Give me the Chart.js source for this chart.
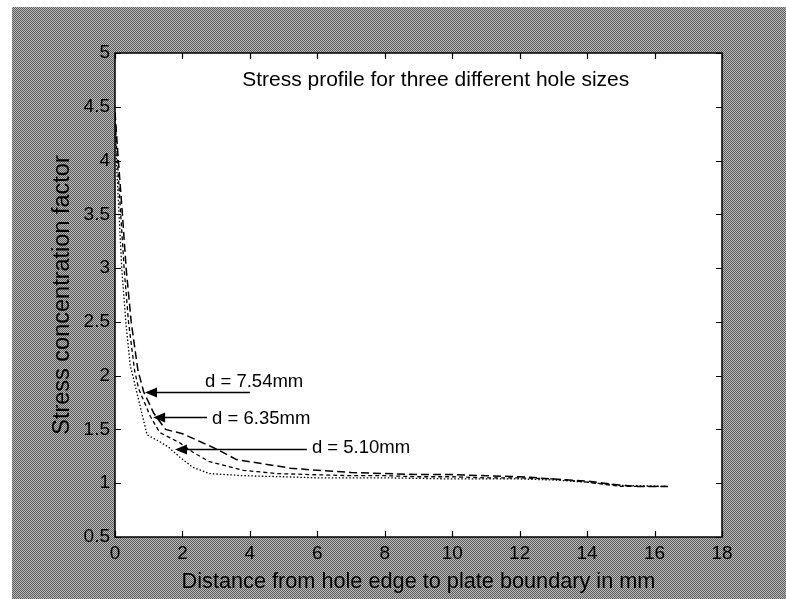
<!DOCTYPE html>
<html>
<head>
<meta charset="utf-8">
<script src="https://cdn.jsdelivr.net/npm/chart.js@4.4.1/dist/chart.umd.min.js"></script>
<style>
  html, body { margin: 0; padding: 0; background: #fff; }
  canvas { display: block; }
</style>
</head>
<body>
<canvas id="c" width="786" height="599"></canvas>
<script>
// Stress concentration factor vs. distance from hole edge, three hole diameters
const dist754 = [0, 0.1, 0.22, 0.33, 0.48, 0.68, 0.85, 1.15, 1.5, 2.0, 2.5, 3.0, 3.6, 4.2, 5.2, 6.0, 7.0, 8.0, 9.0, 10.0, 11.0, 12.0, 13.0, 14.0, 14.5, 15.0, 15.5, 16.4];
const scf754  = [4.45, 4.0, 3.5, 3.0, 2.5, 2.05, 1.85, 1.65, 1.5, 1.46, 1.39, 1.32, 1.22, 1.19, 1.14, 1.12, 1.10, 1.09, 1.08, 1.08, 1.07, 1.06, 1.04, 1.02, 1.0, 0.98, 0.97, 0.97];

const dist635 = [0, 0.07, 0.17, 0.27, 0.4, 0.58, 0.7, 1.05, 1.33, 1.65, 1.95, 2.3, 2.8, 3.8, 4.8, 5.8, 7.0, 8.0, 9.0, 10.0, 11.0, 12.0, 13.0, 14.0, 14.5, 15.0, 16.0, 16.4];
const scf635  = [4.4, 4.0, 3.5, 3.0, 2.5, 2.05, 1.88, 1.62, 1.47, 1.42, 1.37, 1.29, 1.2, 1.12, 1.09, 1.08, 1.07, 1.07, 1.06, 1.06, 1.05, 1.05, 1.04, 1.01, 0.99, 0.97, 0.97, 0.97];

const dist510 = [0, 0.04, 0.12, 0.2, 0.32, 0.45, 0.65, 0.95, 1.25, 1.57, 1.93, 2.3, 2.8, 3.8, 5.0, 6.0, 8.0, 10.0, 12.0, 13.0, 14.0, 15.0, 16.4];
const scf510  = [4.35, 4.0, 3.5, 3.0, 2.5, 2.1, 1.84, 1.45, 1.4, 1.34, 1.24, 1.15, 1.09, 1.07, 1.06, 1.05, 1.05, 1.04, 1.04, 1.03, 1.01, 0.98, 0.97];

const xTicks = [0, 2, 4, 6, 8, 10, 12, 14, 16, 18];
const yTicks = [0.5, 1, 1.5, 2, 2.5, 3, 3.5, 4, 4.5, 5];

const holeLabels = ['d = 7.54mm', 'd = 6.35mm', 'd = 5.10mm'];

// Arrow callouts, in data units: arrow tip, tail x, and text anchor (left, middle)
const callouts = [
  { text: holeLabels[0], tip: [0.89, 1.85], tailX: 4.0,  at: [2.67, 1.94] },
  { text: holeLabels[1], tip: [1.13, 1.615], tailX: 2.73, at: [2.88, 1.60] },
  { text: holeLabels[2], tip: [1.78, 1.318], tailX: 5.69, at: [5.84, 1.327] }
];
const plotTitle = { text: 'Stress profile for three different hole sizes', at: [3.77, 4.75] };

const FONT = '"Liberation Sans", Arial, Helvetica, sans-serif';

function pts(xs, ys) { return xs.map((x, i) => ({ x: x, y: ys[i] })); }

// Halftone-like grey backdrop around the axes box
function makeScreen(ctx) {
  const off = document.createElement('canvas');
  off.width = 2; off.height = 2;
  const o = off.getContext('2d');
  o.fillStyle = '#bcbcbc'; o.fillRect(0, 0, 2, 2);
  o.fillStyle = '#5a5a5a'; o.fillRect(0, 0, 1, 1); o.fillRect(1, 1, 1, 1);
  return ctx.createPattern(off, 'repeat');
}

const framePlugin = {
  id: 'frame',
  beforeDraw(chart) {
    const { ctx, chartArea: a } = chart;
    ctx.save();
    ctx.fillStyle = '#fff';
    ctx.fillRect(0, 0, chart.width, chart.height);
    ctx.fillStyle = makeScreen(ctx);
    ctx.fillRect(12, 7, chart.width - 12, chart.height - 7);
    ctx.fillStyle = '#fff';
    ctx.fillRect(a.left, a.top, a.right - a.left, a.bottom - a.top);
    ctx.restore();
  },
  afterDraw(chart) {
    const { ctx, chartArea: a, scales } = chart;
    const sx = scales.x, sy = scales.y;
    ctx.save();
    // box
    ctx.strokeStyle = '#000';
    ctx.lineWidth = 1.5;
    ctx.strokeRect(a.left, a.top, a.right - a.left, a.bottom - a.top);
    // inward ticks on all four sides
    ctx.lineWidth = 1.2;
    const tl = 6;
    ctx.beginPath();
    sx.ticks.forEach(t => {
      const px = Math.round(sx.getPixelForValue(t.value)) + 0.5;
      ctx.moveTo(px, a.bottom); ctx.lineTo(px, a.bottom - tl);
      ctx.moveTo(px, a.top); ctx.lineTo(px, a.top + tl);
    });
    sy.ticks.forEach(t => {
      const py = Math.round(sy.getPixelForValue(t.value)) + 0.5;
      ctx.moveTo(a.left, py); ctx.lineTo(a.left + tl, py);
      ctx.moveTo(a.right, py); ctx.lineTo(a.right - tl, py);
    });
    ctx.stroke();

    // title inside the axes
    ctx.fillStyle = '#000';
    ctx.font = '21px ' + FONT;
    ctx.textBaseline = 'middle';
    ctx.textAlign = 'left';
    ctx.fillText(plotTitle.text, sx.getPixelForValue(plotTitle.at[0]), sy.getPixelForValue(plotTitle.at[1]));

    // callouts with filled arrowheads
    ctx.font = '18.5px ' + FONT;
    callouts.forEach(c => {
      const tx = sx.getPixelForValue(c.tip[0]);
      const ty = Math.round(sy.getPixelForValue(c.tip[1])) + 0.5;
      const ex = sx.getPixelForValue(c.tailX);
      ctx.lineWidth = 1.6;
      ctx.beginPath();
      ctx.moveTo(tx + 8, ty); ctx.lineTo(ex, ty);
      ctx.stroke();
      ctx.beginPath();
      ctx.moveTo(tx, ty);
      ctx.lineTo(tx + 12, ty - 5);
      ctx.lineTo(tx + 12, ty + 5);
      ctx.closePath();
      ctx.fill();
      ctx.fillText(c.text, sx.getPixelForValue(c.at[0]), sy.getPixelForValue(c.at[1]));
    });
    ctx.restore();
  }
};

new Chart(document.getElementById('c'), {
  type: 'scatter',
  data: {
    datasets: [
      { label: holeLabels[0], data: pts(dist754, scf754), showLine: true, borderColor: '#000', borderWidth: 1.5, borderDash: [8, 4], pointRadius: 0, fill: false },
      { label: holeLabels[1], data: pts(dist635, scf635), showLine: true, borderColor: '#000', borderWidth: 1.3, borderDash: [4, 3], pointRadius: 0, fill: false },
      { label: holeLabels[2], data: pts(dist510, scf510), showLine: true, borderColor: '#000', borderWidth: 1.3, borderDash: [1.5, 2], pointRadius: 0, fill: false }
    ]
  },
  options: {
    responsive: false,
    devicePixelRatio: 1,
    animation: false,
    layout: { padding: { top: 53, right: 64, left: 0, bottom: 0 } },
    plugins: { legend: { display: false }, tooltip: { enabled: false } },
    scales: {
      x: {
        type: 'linear', min: 0, max: 18,
        grid: { display: false, drawTicks: false, tickLength: 0 },
        border: { display: false },
        afterBuildTicks: s => { s.ticks = xTicks.map(v => ({ value: v })); },
        afterFit: s => { s.height = 62; },
        ticks: { color: '#000', padding: 5, font: { family: FONT, size: 19 }, callback: v => String(v), maxRotation: 0, autoSkip: false },
        title: { display: true, text: 'Distance from hole edge to plate boundary in mm', color: '#000', font: { family: FONT, size: 21.7 }, padding: { top: 0, bottom: 4 } }
      },
      y: {
        type: 'linear', min: 0.5, max: 5,
        grid: { display: false, drawTicks: false, tickLength: 0 },
        border: { display: false },
        afterBuildTicks: s => { s.ticks = yTicks.map(v => ({ value: v })); },
        afterFit: s => { s.width = 115; },
        ticks: { color: '#000', padding: 5, font: { family: FONT, size: 19 }, callback: v => String(v), autoSkip: false },
        title: { display: true, text: 'Stress concentration factor', color: '#000', font: { family: FONT, size: 23.5 }, padding: { top: 48, bottom: 0 } }
      }
    }
  },
  plugins: [framePlugin]
});
</script>
</body>
</html>
